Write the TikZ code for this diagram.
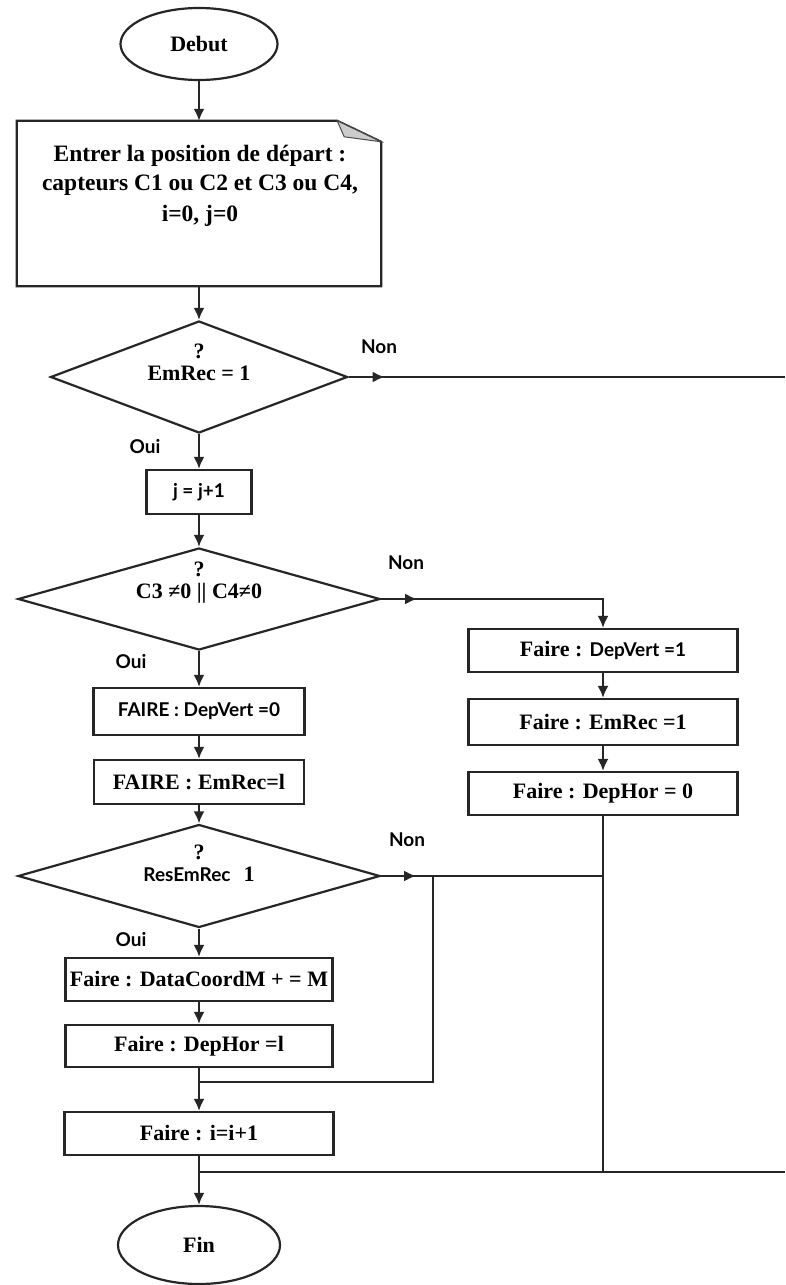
\documentclass[tikz,border=0pt]{standalone}
\usepackage{fontspec}
\setmainfont{Liberation Serif}
\newfontfamily\gsans{Lato}
\usetikzlibrary{shapes.geometric,arrows.meta}

\begin{document}
\begin{tikzpicture}[x=1pt,y=-1pt,>={Latex[length=12pt,width=11pt]},
	trait/.style={line width=2.2pt,draw=black!85},
	fleche/.style={trait,->},
	boite/.style={rectangle,trait,inner sep=0pt,minimum height=44pt,font=\fontsize{22}{26}\selectfont\bfseries},
	losange/.style={diamond,trait,inner sep=0pt},
	bout/.style={ellipse,trait,inner sep=0pt,font=\fontsize{22}{26}\selectfont\bfseries},
	txt/.style={align=center,inner sep=0pt,font=\fontsize{22}{22}\selectfont\bfseries},
	etiq/.style={inner sep=0pt,font=\gsans\fontsize{19}{22}\selectfont\bfseries}]
	\fill[white] (0,0) rectangle (785,1285);
	\useasboundingbox (0,0) rectangle (785,1285);
	%colonne principale
	\node[bout,minimum width=157pt,minimum height=72pt] (debut) at (199,44) {Debut};
	\node[minimum width=364pt,minimum height=165pt] (entree) at (199,203.5) {};
	\draw[trait] (entree.south west)--(entree.north west)--([xshift=-44pt]entree.north east)--([yshift=-21pt]entree.north east)--(entree.south east)--cycle;
	\filldraw[fill=black!20,draw=black!70,line width=1pt] ([xshift=-44pt]entree.north east)--([xshift=-37pt,yshift=-16pt]entree.north east)--([yshift=-21pt]entree.north east)--cycle;
	\node[txt,font=\fontsize{23.5}{29}\selectfont\bfseries] (entreetxt) at (200,186) {Entrer la position de départ :\\capteurs C1 ou C2 et C3 ou C4,\\[2pt]i=0, j=0};
	\node[losange,minimum width=297pt,minimum height=112pt] (emrec) at (199,377) {};
	\node[txt] (emrectxt) at (199,362) {?\\EmRec = 1};
	\node[boite,minimum width=105pt] (jplus) at (199,492) {\gsans\fontsize{19}{22}\selectfont j = j+1};
	\node[losange,minimum width=362pt,minimum height=102pt] (capt) at (199,599) {};
	\node[txt] (capttxt) at (199,583) {?\\C3 ≠0 || C4≠0};
	\node[boite,minimum width=211pt,minimum height=47pt] (vert0) at (199,711.5) {\gsans\fontsize{19}{22}\selectfont FAIRE : DepVert =0};
	\node[boite,minimum width=210pt] (emrec1) at (199,782) {FAIRE : EmRec=l};
	\node[losange,minimum width=362pt,minimum height=103pt] (res) at (199,876) {};
	\node[txt] (restxt) at (199,863) {?\\{\gsans\fontsize{19}{22}\selectfont ResEmRec}\hspace{13pt}1};
	\node[boite,minimum width=267pt,minimum height=43pt] (data) at (199,979.5) {Faire : DataCoordM + = M};
	\node[boite,minimum width=267pt,minimum height=42pt] (hor1) at (199,1046) {Faire : DepHor =l};
	\node[boite,minimum width=269pt,minimum height=43pt] (iplus) at (199,1133.5) {Faire : i=i+1};
	\node[bout,minimum width=162pt,minimum height=78pt] (fin) at (199,1245) {Fin};
	%colonne de droite
	\node[boite,minimum width=269pt,minimum height=43pt] (vert1) at (603,650.5) {Faire : {\gsans\fontsize{19}{22}\selectfont DepVert =1}};
	\node[boite,minimum width=269pt,minimum height=46pt] (emrec2) at (603,722) {Faire : EmRec =1};
	\node[boite,minimum width=269pt,minimum height=43pt] (hor0) at (603,793.5) {Faire : DepHor = 0};
	\coordinate (n1) at (785,377);\coordinate (n2) at (603,599);\coordinate (n3) at (603,876);
	\coordinate (b1) at (433,876);\coordinate (b2) at (433,1082);\coordinate (j1) at (199,1082);
	\coordinate (j2) at (199,1172);\coordinate (n4) at (785,1172);\coordinate (n5) at (603,1172);
	%fleches
	\draw[fleche] (debut)--(entree);
	\draw[fleche] (entree)--(emrec);
	\draw[fleche] (emrec)--(jplus);
	\draw[fleche] (jplus)--(capt);
	\draw[fleche] (capt)--(vert0);
	\draw[fleche] (vert0)--(emrec1);
	\draw[fleche] (emrec1)--(res);
	\draw[fleche] (res)--(data);
	\draw[fleche] (data)--(hor1);
	\draw[fleche] (hor1)--(iplus);
	\draw[fleche] (iplus)--(fin);
	\draw[fleche] (vert1)--(emrec2);
	\draw[fleche] (emrec2)--(hor0);
	\draw[trait] (emrec.east)--(n1);
	\draw[fleche] (emrec.east)--++(36,0);
	\draw[fleche] (capt.east)--(n2)--(vert1.north);
	\draw[fleche] (capt.east)--++(36,0);
	\draw[trait] (res.east)--(n3);
	\draw[fleche] (res.east)--++(35,0);
	\draw[trait] (b1)--(b2)--(j1);
	\draw[trait] (hor0.south)--(n5);
	\draw[trait] (j2)--(n4);
	%etiquettes
	\node[etiq] (non1) at (379,347) {Non};
	\node[etiq] (oui1) at (145,447) {Oui};
	\node[etiq] (non2) at (406,563) {Non};
	\node[etiq] (oui2) at (131,662) {Oui};
	\node[etiq] (non3) at (407,840) {Non};
	\node[etiq] (oui3) at (131,940) {Oui};
\end{tikzpicture}
\end{document}
